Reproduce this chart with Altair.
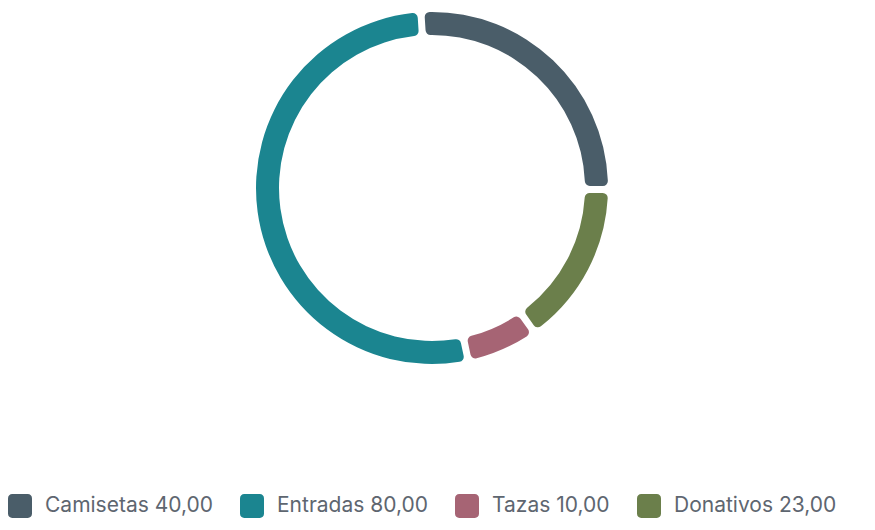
import altair as alt
import pandas as pd
import math

# slices, in the order they are drawn clockwise from the top
categories = ["Camisetas", "Donativos", "Tazas", "Entradas"]
values = [40, 23, 10, 80]
# legend order and colours
legend_order = ["Camisetas", "Entradas", "Tazas", "Donativos"]
colors = ["#4a5d69", "#1b8590", "#a66474", "#6b7f4b"]

df = pd.DataFrame(
    {"categoria": categories, "valor": values, "orden": range(len(categories))}
)

fmt = {c: f"{v:.2f}".replace(".", ",") for c, v in zip(categories, values)}
label_expr = (
    "datum.label + ' ' + {"
    + ", ".join(f"'{k}': '{v}'" for k, v in fmt.items())
    + "}[datum.label]"
)

rounded_square = (
    "M-0.65,-1 H0.65 A0.35,0.35 0 0 1 1,-0.65 V0.65 A0.35,0.35 0 0 1 0.65,1 "
    "H-0.65 A0.35,0.35 0 0 1 -1,0.65 V-0.65 A0.35,0.35 0 0 1 -0.65,-1 Z"
)

start = -0.063  # ring starts a little left of 12 o'clock

chart = (
    alt.Chart(df)
    .mark_arc(innerRadius=153, outerRadius=176, cornerRadius=5, padAngle=0.03)
    .encode(
        theta=alt.Theta("valor:Q").stack(True).scale(range=[start, start + 2 * math.pi]),
        order=alt.Order("orden:Q"),
        color=alt.Color("categoria:N")
        .scale(domain=legend_order, range=colors)
        .legend(
            title=None,
            orient="bottom",
            direction="horizontal",
            columns=4,
            columnPadding=27,
            offset=126,
            symbolType=rounded_square,
            symbolSize=576,
            symbolStrokeWidth=0,
            symbolOpacity=1,
            labelFont="Inter",
            labelFontSize=21,
            labelColor="#5e6670",
            labelOffset=13,
            labelLimit=400,
            labelExpr=label_expr,
        ),
    )
    .properties(width=848, height=360, padding=0)
    .configure_view(stroke=None)
)

chart.save("out.html", embed_options={"renderer": "svg", "actions": False})
